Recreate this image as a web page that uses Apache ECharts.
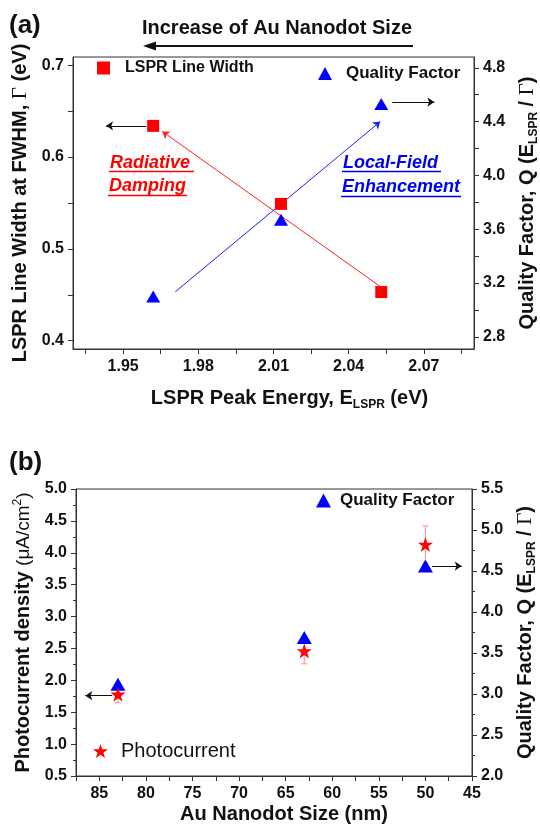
<!DOCTYPE html>
<html>
<head>
<meta charset="utf-8">
<script src="https://cdn.jsdelivr.net/npm/echarts@6.0.0/dist/echarts.min.js"></script>
<style>html,body{margin:0;padding:0;background:#fff}#main{width:540px;height:830px}</style>
</head>
<body>
<div id="main"></div>
<script>
var chart = echarts.init(document.getElementById('main'));

// (a) LSPR line width / quality factor vs peak energy
var peakEnergy = [1.962, 2.013, 2.053];
var lineWidth = [0.634, 0.549, 0.453];
var qualityA = [3.10, 3.67, 4.53];

// (b) photocurrent / quality factor vs nanodot size
var dotSize = [83, 63, 50];
var photocurrent = [1.78, 2.46, 4.13];
var photoErr = [0.13, 0.20, 0.29];
var qualityB = [3.12, 3.69, 4.56];

// tick labels and tick marks
var energyLabels = [1.95, 1.98, 2.01, 2.04, 2.07];
var energyTicks = [1.935, 1.95, 1.965, 1.98, 1.995, 2.01, 2.025, 2.04, 2.055, 2.07, 2.085];
var widthLabels = [0.4, 0.5, 0.6, 0.7];
var widthTicks = [0.4, 0.45, 0.5, 0.55, 0.6, 0.65, 0.7];
var qLabelsA = [2.8, 3.2, 3.6, 4.0, 4.4, 4.8];
var qTicksA = [2.8, 3.0, 3.2, 3.4, 3.6, 3.8, 4.0, 4.2, 4.4, 4.6, 4.8];
var sizeLabels = [85, 80, 75, 70, 65, 60, 55, 50, 45];
var sizeTicks = [87.5, 85, 82.5, 80, 77.5, 75, 72.5, 70, 67.5, 65, 62.5, 60, 57.5, 55, 52.5, 50, 47.5, 45];

// annotation arrows, in data coordinates
var redArrow = [[2.0526, 0.459], [1.9656, 0.628]];
var blueArrow = [[1.9708, 3.135], [2.0526, 4.40]];
var arrowA1 = [[1.9592, 0.634], [1.9432, 0.634]];
var arrowA2 = [[2.0574, 4.545], [2.0742, 4.545]];
var arrowB1 = [[83.6, 1.76], [86.5, 1.76]];
var arrowB2 = [[49.3, 4.56], [46.1, 4.56]];

function zip(a, b) { return a.map(function (v, i) { return [v, b[i]]; }); }

var F = 'Arial, "Liberation Sans", sans-serif';
var lab = { fontFamily: F, fontWeight: 'bold', fontSize: 16, color: '#111' };
var nameRich = {
  b: { fontFamily: F, fontWeight: 'bold', fontSize: 20, color: '#111' },
  s: { fontFamily: F, fontWeight: 'bold', fontSize: 12, color: '#111', padding: [14, 0, 0, 0] },
  g: { fontFamily: '"Liberation Serif", serif', fontSize: 21, color: '#111' },
  n: { fontFamily: F, fontSize: 19, color: '#111' },
  p: { fontFamily: F, fontSize: 12, color: '#111', padding: [0, 0, 13, 0] }
};
var line = { show: true, onZero: false, lineStyle: { color: '#333', width: 1 } };
var tick = { show: true, length: 5, lineStyle: { color: '#333' } };

function fixed1(v) { return v.toFixed(1); }

function arrowSeries(coords, xi, yi, color, size) {
  return {
    type: 'lines', coordinateSystem: 'cartesian2d', xAxisIndex: xi, yAxisIndex: yi,
    symbol: ['none', 'arrow'], symbolSize: size, silent: true, z: 3,
    lineStyle: { color: color, width: 1, opacity: 1 },
    data: [{ coords: coords }]
  };
}

var option = {
  animation: false,
  backgroundColor: '#fff',
  grid: [
    { left: 73, top: 57, width: 401, height: 292, show: true, borderColor: '#333', borderWidth: 1, outerBoundsMode: 'none', containLabel: false },
    { left: 76, top: 489, width: 396, height: 287, show: true, borderColor: '#333', borderWidth: 1, outerBoundsMode: 'none', containLabel: false }
  ],
  xAxis: [
    {
      type: 'value', gridIndex: 0, min: 1.93, max: 2.09,
      axisLine: line, splitLine: { show: false },
      axisTick: Object.assign({ customValues: energyTicks }, tick),
      axisLabel: Object.assign({ customValues: energyLabels, margin: 10, formatter: function (v) { return v.toFixed(2); } }, lab),
      name: '{b|LSPR Peak Energy, E}{s|LSPR}{b| (eV)}', nameLocation: 'middle', nameGap: 36,
      nameTextStyle: { rich: nameRich, padding: [0, 0, 0, 32] }
    },
    {
      type: 'value', gridIndex: 1, min: 45, max: 87.5, inverse: true,
      axisLine: line, splitLine: { show: false },
      axisTick: Object.assign({ customValues: sizeTicks }, tick),
      axisLabel: Object.assign({ customValues: sizeLabels, margin: 10 }, lab),
      name: '{b|Au Nanodot Size (nm)}', nameLocation: 'middle', nameGap: 28,
      nameTextStyle: { rich: nameRich, padding: [0, 0, 0, 20] }
    }
  ],
  yAxis: [
    {
      type: 'value', gridIndex: 0, min: 0.391, max: 0.709, position: 'left',
      axisLine: line, splitLine: { show: false },
      axisTick: Object.assign({ customValues: widthTicks }, tick),
      axisLabel: Object.assign({ customValues: widthLabels, margin: 9, formatter: fixed1 }, lab),
      name: '{b|LSPR Line Width at FWHM, }{g|Γ}{b| (eV)}', nameLocation: 'middle', nameGap: 30, nameRotate: 90,
      nameTextStyle: { rich: nameRich }
    },
    {
      type: 'value', gridIndex: 0, min: 2.71, max: 4.88, position: 'right',
      axisLine: line, splitLine: { show: false },
      axisTick: Object.assign({ customValues: qTicksA }, tick),
      axisLabel: Object.assign({ customValues: qLabelsA, margin: 9, formatter: fixed1 }, lab),
      name: '{b|Quality Factor, Q (E}{s|LSPR}{b| / }{g|Γ}{b|)}', nameLocation: 'middle', nameGap: 40, nameRotate: 90,
      nameTextStyle: { rich: nameRich }
    },
    {
      type: 'value', gridIndex: 1, min: 0.5, max: 5.0, interval: 0.5, position: 'left',
      axisLine: line, splitLine: { show: false }, axisTick: tick,
      minorTick: { show: true, splitNumber: 2, length: 3, lineStyle: { color: '#333' } },
      axisLabel: Object.assign({ margin: 9, formatter: fixed1 }, lab),
      name: '{b|Photocurrent density }{n|(μA/cm}{p|2}{n|)}', nameLocation: 'middle', nameGap: 31, nameRotate: 90,
      nameTextStyle: { rich: nameRich }
    },
    {
      type: 'value', gridIndex: 1, min: 2.0, max: 5.5, interval: 0.5, position: 'right',
      axisLine: line, splitLine: { show: false }, axisTick: tick,
      minorTick: { show: true, splitNumber: 2, length: 3, lineStyle: { color: '#333' } },
      axisLabel: Object.assign({ margin: 9, formatter: fixed1 }, lab),
      name: '{b|Quality Factor, Q (E}{s|LSPR}{b| / }{g|Γ}{b|)}', nameLocation: 'middle', nameGap: 40, nameRotate: 90,
      nameTextStyle: { rich: nameRich }
    }
  ],
  legend: [
    { data: ['LSPR Line Width'], left: 97, top: 60, itemWidth: 13, itemHeight: 13, padding: 0,
      textStyle: { fontFamily: F, fontWeight: 'bold', fontSize: 16, color: '#111', padding: [0, 0, 0, 10] } },
    { data: ['Quality Factor'], left: 318, top: 65, itemWidth: 14, itemHeight: 13, padding: 0,
      textStyle: { fontFamily: F, fontWeight: 'bold', fontSize: 17, color: '#111', padding: [0, 0, 0, 9] } },
    { data: ['Quality Factor'], left: 316, top: 492, itemWidth: 15, itemHeight: 14, padding: 0,
      textStyle: { fontFamily: F, fontWeight: 'bold', fontSize: 17, color: '#111', padding: [0, 0, 0, 4] } },
    { data: ['Photocurrent'], left: 93, top: 741, itemWidth: 15, itemHeight: 15, padding: 0,
      textStyle: { fontFamily: F, fontSize: 20, color: '#111', padding: [0, 0, 0, 8] } }
  ],
  graphic: [
    { type: 'text', left: 9, top: 13, style: { text: '(a)', font: 'bold 26px ' + F, fill: '#111' } },
    { type: 'text', left: 9, top: 450, style: { text: '(b)', font: 'bold 26px ' + F, fill: '#111' } },
    { type: 'text', x: 277, y: 28, style: { text: 'Increase of Au Nanodot Size', font: 'bold 20px ' + F, fill: '#111', align: 'center', verticalAlign: 'middle' } },
    { type: 'line', shape: { x1: 413, y1: 46, x2: 152, y2: 46 }, style: { stroke: '#111', lineWidth: 2 } },
    { type: 'polygon', shape: { points: [[143, 46], [156, 41.5], [156, 50.5]] }, style: { fill: '#111' } },
    { type: 'text', x: 110, y: 163, style: { text: 'Radiative', font: 'italic bold 18px ' + F, fill: '#ff0000', verticalAlign: 'middle' } },
    { type: 'line', shape: { x1: 109, y1: 171.5, x2: 194, y2: 171.5 }, style: { stroke: '#ff0000', lineWidth: 1.5 } },
    { type: 'text', x: 109, y: 186, style: { text: 'Damping', font: 'italic bold 18px ' + F, fill: '#ff0000', verticalAlign: 'middle' } },
    { type: 'line', shape: { x1: 108, y1: 195.5, x2: 187, y2: 195.5 }, style: { stroke: '#ff0000', lineWidth: 1.5 } },
    { type: 'text', x: 343, y: 163, style: { text: 'Local-Field', font: 'italic bold 18px ' + F, fill: '#0000ee', verticalAlign: 'middle' } },
    { type: 'line', shape: { x1: 342, y1: 171.5, x2: 441, y2: 171.5 }, style: { stroke: '#0000ee', lineWidth: 1.5 } },
    { type: 'text', x: 342, y: 187, style: { text: 'Enhancement', font: 'italic bold 18px ' + F, fill: '#0000ee', verticalAlign: 'middle' } },
    { type: 'line', shape: { x1: 341, y1: 196.5, x2: 461, y2: 196.5 }, style: { stroke: '#0000ee', lineWidth: 1.5 } }
  ],
  series: [
    { name: 'LSPR Line Width', type: 'scatter', xAxisIndex: 0, yAxisIndex: 0, symbol: 'rect', symbolSize: 12,
      itemStyle: { color: '#ff0000', opacity: 1 }, data: zip(peakEnergy, lineWidth), z: 4 },
    { name: 'Quality Factor', type: 'scatter', xAxisIndex: 0, yAxisIndex: 1, symbol: 'triangle', symbolSize: [14, 12],
      itemStyle: { color: '#0000ff', opacity: 1 }, data: zip(peakEnergy, qualityA), z: 4 },
    arrowSeries(redArrow, 0, 0, '#ff2020', 7),
    arrowSeries(blueArrow, 0, 1, '#2020ff', 7),
    arrowSeries(arrowA1, 0, 0, '#111', 7),
    arrowSeries(arrowA2, 0, 1, '#111', 7),
    {
      name: 'error', type: 'custom', xAxisIndex: 1, yAxisIndex: 2, z: 2, silent: true,
      data: dotSize.map(function (s, i) { return [s, photocurrent[i], photoErr[i]]; }),
      renderItem: function (params, api) {
        var hi = api.coord([api.value(0), api.value(1) + api.value(2)]);
        var lo = api.coord([api.value(0), api.value(1) - api.value(2)]);
        var st = { stroke: '#f8a0a0', lineWidth: 1.2 };
        return { type: 'group', children: [
          { type: 'line', shape: { x1: hi[0], y1: hi[1], x2: lo[0], y2: lo[1] }, style: st },
          { type: 'line', shape: { x1: hi[0] - 3, y1: hi[1], x2: hi[0] + 3, y2: hi[1] }, style: st },
          { type: 'line', shape: { x1: lo[0] - 3, y1: lo[1], x2: lo[0] + 3, y2: lo[1] }, style: st }
        ] };
      }
    },
    { name: 'Quality Factor', type: 'scatter', xAxisIndex: 1, yAxisIndex: 3, symbol: 'triangle', symbolSize: [15, 13],
      itemStyle: { color: '#0000ff', opacity: 1 }, data: zip(dotSize, qualityB), z: 3 },
    { name: 'Photocurrent', type: 'scatter', xAxisIndex: 1, yAxisIndex: 2, symbol: 'path://M50,0 L61.8,35.5 L99,35.5 L69,57.5 L80.3,93 L50,71 L19.7,93 L31,57.5 L1,35.5 L38.2,35.5 Z', symbolSize: 15,
      itemStyle: { color: '#ff0000', opacity: 1 }, data: zip(dotSize, photocurrent), z: 4 },
    arrowSeries(arrowB1, 1, 2, '#111', 7),
    arrowSeries(arrowB2, 1, 3, '#111', 7)
  ]
};
chart.setOption(option);
</script>
</body>
</html>
